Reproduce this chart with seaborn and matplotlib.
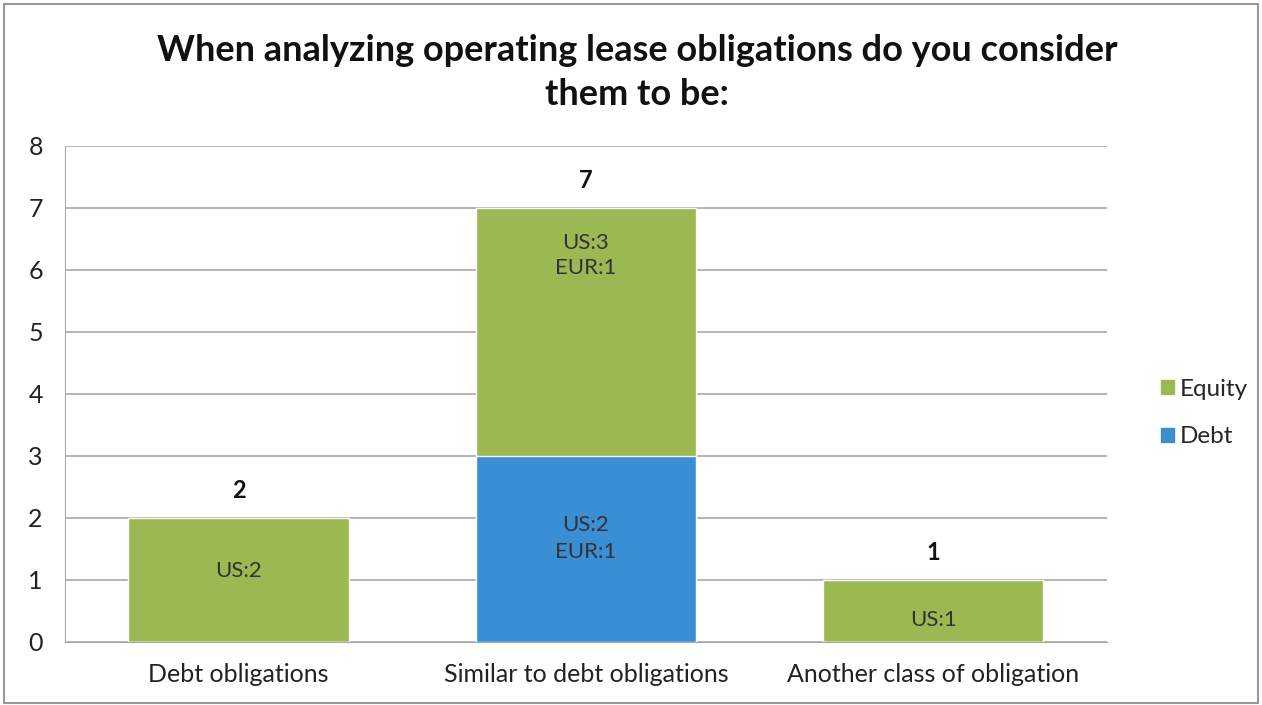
import pandas as pd
import seaborn as sns
import matplotlib.pyplot as plt
from matplotlib.patches import Rectangle, Patch

categories = ['Debt obligations', 'Similar to debt obligations', 'Another class of obligation']
equity = [2, 4, 1]
debt = [0, 3, 0]
equity_labels = ['US:2', 'US:3\nEUR:1', 'US:1']
debt_labels = ['', 'US:2\nEUR:1', '']

# where the inside labels sit (data units)
equity_label_y = [1.15, 6.23, 0.35]
debt_label_y = [None, 1.67, None]

green = '#9cb853'
blue = '#3a8ed3'

df = pd.DataFrame({'category': categories, 'equity': equity, 'debt': debt})
df['total'] = df['equity'] + df['debt']

sns.set_style('white')
plt.rcParams['font.family'] = ['Lato', 'DejaVu Sans']

fig = plt.figure(figsize=(12.62, 7.05), dpi=100)
ax = fig.add_axes([0.0515, 0.0894, 0.8255, 0.7036])

# total bar in green, debt part drawn over it in blue
sns.barplot(data=df, x='category', y='total', color=green, width=0.635,
            saturation=1, ax=ax, zorder=3)
sns.barplot(data=df, x='category', y='debt', color=blue, width=0.635,
            saturation=1, ax=ax, zorder=4)

ax.set_ylim(0, 8)
ax.set_yticks(range(0, 9))
ax.yaxis.grid(True, color='#a8a8a8', linewidth=1.2, zorder=0)
ax.set_axisbelow(True)
for s in ['top', 'right']:
    ax.spines[s].set_visible(False)
ax.spines['left'].set_color('#a8a8a8')
ax.spines['bottom'].set_color('#a8a8a8')
ax.set_xlabel('')
ax.set_ylabel('')
ax.tick_params(axis='y', length=0, labelsize=18, colors='#222222', pad=16)
ax.tick_params(axis='x', length=0, labelsize=18, colors='#222222', pad=15)

for i in range(len(categories)):
    tot = df['total'][i]
    ax.text(i, equity_label_y[i], equity_labels[i], ha='center', va='center',
            fontsize=16, color='#333333', linespacing=1.35, zorder=5)
    if debt_labels[i]:
        ax.text(i, debt_label_y[i], debt_labels[i], ha='center', va='center',
                fontsize=16, color='#333333', linespacing=1.45, zorder=5)
    ax.text(i, tot + 0.26, str(tot), ha='center', va='bottom',
            fontsize=17, fontweight='bold', color='#111111')

fig.suptitle('When analyzing operating lease obligations do you consider\nthem to be:',
             x=0.505, y=0.952, fontsize=26, fontweight='bold', color='#111111',
             linespacing=1.4)

handles = [Patch(color=green, label='Equity'), Patch(color=blue, label='Debt')]
fig.legend(handles=handles, loc='center left', bbox_to_anchor=(0.903, 0.414),
           frameon=False, fontsize=17.5, handlelength=0.5, handleheight=0.5,
           handletextpad=0.25, labelspacing=1.1)

fig.patches.append(Rectangle((0.003, 0.003), 0.994, 0.992, transform=fig.transFigure,
                             fill=False, edgecolor='#999999', linewidth=1.5))

fig.savefig('out.png', dpi=100)
